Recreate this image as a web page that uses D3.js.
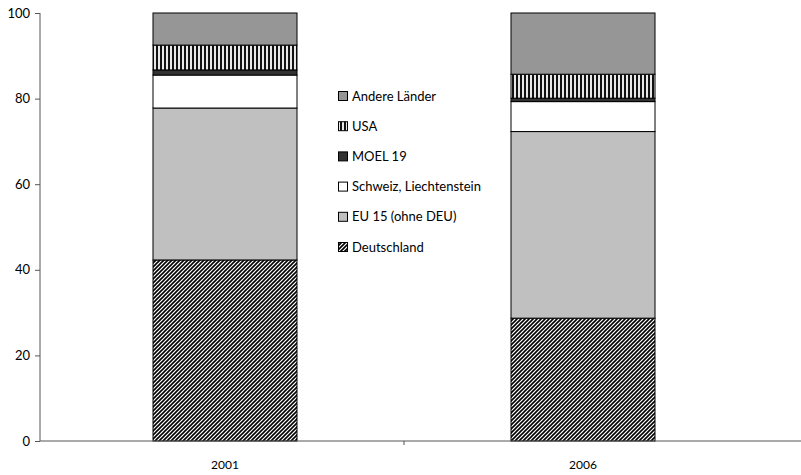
<!DOCTYPE html>
<html><head><meta charset="utf-8">
<script src="https://cdn.jsdelivr.net/npm/d3@7"></script>
<style>body{margin:0;background:#fff}svg{display:block}</style>
</head><body>
<svg id="c" width="801" height="475"></svg>
<script>
const years = ["2001", "2006"];
const seriesNames = ["Deutschland", "EU 15 (ohne DEU)", "Schweiz, Liechtenstein", "MOEL 19", "USA", "Andere Länder"];
const deutschland = [42.3, 28.7];
const eu15 = [35.5, 43.6];
const schweiz = [7.7, 7.0];
const moel = [1.2, 0.8];
const usa = [5.8, 5.6];
const andere = [7.5, 14.3];
const yTicks = [0, 20, 40, 60, 80, 100];

const seriesValues = [deutschland, eu15, schweiz, moel, usa, andere];
const fills = ["url(#diag)", "#c0c0c0", "#ffffff", "#333333", "url(#vert)", "#969696"];
const font = "Lato, 'DejaVu Sans', sans-serif";

const svg = d3.select("#c");
const defs = svg.append("defs");
const pd = defs.append("pattern").attr("id","diag").attr("patternUnits","userSpaceOnUse")
  .attr("width",4).attr("height",4);
pd.append("rect").attr("width",4).attr("height",4).attr("fill","#fff");
pd.append("path").attr("d","M-1,5 L5,-1 M-1,1 L1,-1 M3,5 L5,3").attr("stroke","#000").attr("stroke-width",1.6);
const pv = defs.append("pattern").attr("id","vert").attr("patternUnits","userSpaceOnUse")
  .attr("width",4).attr("height",4);
pv.append("rect").attr("width",4).attr("height",4).attr("fill","#e8e8e8");
pv.append("rect").attr("width",2).attr("height",4).attr("fill","#111");

const y = d3.scaleLinear().domain([0,100]).range([441,13]);
const x = d3.scaleBand().domain(years).range([46,762]).paddingInner(0).paddingOuter(0);
const barW = 144;

const data = years.map((yr,i)=>{const o={year:yr}; seriesNames.forEach((s,j)=>o[s]=seriesValues[j][i]); return o;});
const stack = d3.stack().keys(seriesNames)(data);

const g = svg.append("g");
stack.forEach((layer,j)=>{
  g.selectAll(null).data(layer).enter().append("rect")
    .attr("x", d=>x(d.data.year)+x.bandwidth()/2-barW/2)
    .attr("width", barW)
    .attr("y", d=>y(d[1]))
    .attr("height", d=>y(d[0])-y(d[1]))
    .attr("fill", fills[j])
    .attr("stroke", "#000").attr("stroke-width", 1);
});

// y axis
const ya = svg.append("g").attr("transform","translate(40,0)")
  .call(d3.axisLeft(y).tickValues(yTicks).tickSize(5).tickPadding(5));
ya.selectAll("path,line").attr("stroke","#555");
ya.select(".domain").attr("d","M0,13V441");
ya.selectAll("text").attr("font-family",font).attr("font-size",13).attr("fill","#000");

// x axis
svg.append("line").attr("x1",40).attr("x2",801).attr("y1",441).attr("y2",441).attr("stroke","#555");
const mid = (x("2001")+x("2006")+x.bandwidth())/2;
svg.append("line").attr("x1",mid).attr("x2",mid)
  .attr("y1",441).attr("y2",445).attr("stroke","#555");
svg.selectAll(null).data(years).enter().append("text")
  .attr("x", d=>x(d)+x.bandwidth()/2).attr("y",469)
  .attr("text-anchor","middle").attr("font-family",font).attr("font-size",12)
  .text(d=>d);

// legend
const legOrder = seriesNames.map((s,j)=>({s,j})).reverse();
const lg = svg.append("g");
legOrder.forEach((d,i)=>{
  const cy = 96 + i*30.2;
  lg.append("rect").attr("x",338.5).attr("y",cy-4.5).attr("width",9).attr("height",9)
    .attr("fill",fills[d.j]).attr("stroke","#000").attr("stroke-width",1);
  lg.append("text").attr("x",352).attr("y",cy+4.5)
    .attr("font-family",font).attr("font-size",13).text(d.s);
});
</script>
</body></html>
